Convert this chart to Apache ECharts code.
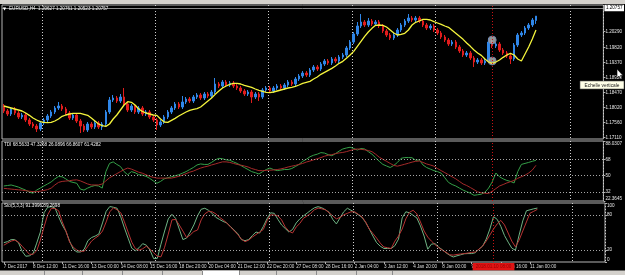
<!DOCTYPE html>
<html><head><meta charset="utf-8">
<script src="https://cdn.jsdelivr.net/npm/echarts@6/dist/echarts.min.js"></script>
<style>html,body{margin:0;padding:0;background:#000;}#c{width:625px;height:275px;}</style>
</head><body><div id="c"></div>
<script>
// ---------- data ----------
const timeLabels = ['7 Dec 2017','8 Dec 12:00','11 Dec 16:00','13 Dec 00:00','14 Dec 08:00','15 Dec 16:00','18 Dec 20:00','20 Dec 04:00','21 Dec 12:00','22 Dec 20:00','27 Dec 08:00','28 Dec 16:00','2 Jan 04:00','3 Jan 12:00','4 Jan 20:00','8 Jan 00:00','9 Jan 08:00','10 Jan 16:00','11 Jan 00:00'];
const labelStep = 8;
const slotCount = 165;
const weekSeparators = [11, 42, 73, 96, 119, 156];

const open = [1.1806,1.1791,1.1782,1.1797,1.1785,1.1773,1.1779,1.1764,1.1752,1.1746,
1.1737,1.1755,1.1764,1.1776,1.1788,1.1800,1.1806,1.1797,1.1785,1.1770,
1.1779,1.1761,1.1746,1.1734,1.1752,1.1743,1.1755,1.1743,1.1752,1.1788,
1.1824,1.1830,1.1821,1.1833,1.1812,1.1794,1.1806,1.1788,1.1800,1.1782,
1.1788,1.1773,1.1764,1.1749,1.1758,1.1773,1.1788,1.1800,1.1812,1.1803,
1.1818,1.1827,1.1821,1.1833,1.1839,1.1830,1.1842,1.1836,1.1848,1.1872,
1.1866,1.1878,1.1869,1.1875,1.1866,1.1860,1.1851,1.1842,1.1848,1.1833,
1.1842,1.1833,1.1854,1.1860,1.1851,1.1860,1.1866,1.1860,1.1869,1.1878,
1.1872,1.1887,1.1896,1.1905,1.1899,1.1914,1.1923,1.1917,1.1932,1.1941,
1.1935,1.1947,1.1941,1.1953,1.1959,1.1980,1.1998,1.2022,1.2046,1.2058,
1.2049,1.2061,1.2052,1.2058,1.2046,1.2031,1.2019,1.2010,1.2019,1.2034,
1.2049,1.2061,1.2070,1.2064,1.2070,1.2061,1.2049,1.2040,1.2046,1.2034,
1.2025,1.2013,1.2004,1.1992,1.1998,1.1983,1.1971,1.1959,1.1965,1.1950,
1.1938,1.1944,1.1935,1.1941,1.1998,1.1986,1.1992,1.1974,1.1965,1.1956,
1.1947,1.1989,1.2019,1.2025,1.2040,1.2049,1.20627];
const close = [1.1791,1.1782,1.1797,1.1785,1.1773,1.1779,1.1764,1.1752,1.1746,1.1737,
1.1755,1.1764,1.1776,1.1788,1.1800,1.1806,1.1797,1.1785,1.1770,1.1779,
1.1761,1.1746,1.1734,1.1752,1.1743,1.1755,1.1743,1.1752,1.1788,1.1824,
1.1830,1.1821,1.1833,1.1812,1.1794,1.1806,1.1788,1.1800,1.1782,1.1788,
1.1773,1.1764,1.1749,1.1758,1.1773,1.1788,1.1800,1.1812,1.1803,1.1818,
1.1827,1.1821,1.1833,1.1839,1.1830,1.1842,1.1836,1.1848,1.1872,1.1866,
1.1878,1.1869,1.1875,1.1866,1.1860,1.1851,1.1842,1.1848,1.1833,1.1842,
1.1833,1.1854,1.1860,1.1851,1.1860,1.1866,1.1860,1.1869,1.1878,1.1872,
1.1887,1.1896,1.1905,1.1899,1.1914,1.1923,1.1917,1.1932,1.1941,1.1935,
1.1947,1.1941,1.1953,1.1959,1.1980,1.1998,1.2022,1.2046,1.2058,1.2049,
1.2061,1.2052,1.2058,1.2046,1.2031,1.2019,1.2010,1.2019,1.2034,1.2049,
1.2061,1.2070,1.2064,1.2070,1.2061,1.2049,1.2040,1.2046,1.2034,1.2025,
1.2013,1.2004,1.1992,1.1998,1.1983,1.1971,1.1959,1.1965,1.1950,1.1938,
1.1944,1.1935,1.1941,1.1998,1.1986,1.1992,1.1974,1.1965,1.1956,1.1947,
1.1989,1.2019,1.2025,1.2040,1.2049,1.2064,1.20757];
const low = [1.1785,1.1776,1.1776,1.1779,1.1767,1.1767,1.1758,1.1746,1.1740,1.1728,
1.1731,1.1749,1.1758,1.1770,1.1782,1.1794,1.1791,1.1779,1.1764,1.1764,
1.1755,1.1725,1.1728,1.1728,1.1737,1.1737,1.1737,1.1734,1.1746,1.1782,
1.1818,1.1815,1.1815,1.1806,1.1788,1.1788,1.1782,1.1782,1.1776,1.1776,
1.1767,1.1758,1.1734,1.1743,1.1752,1.1767,1.1782,1.1794,1.1797,1.1797,
1.1812,1.1815,1.1815,1.1827,1.1824,1.1824,1.1830,1.1830,1.1842,1.1860,
1.1860,1.1863,1.1863,1.1860,1.1854,1.1845,1.1836,1.1836,1.1815,1.1827,
1.1821,1.1827,1.1848,1.1845,1.1845,1.1854,1.1854,1.1854,1.1863,1.1866,
1.1866,1.1881,1.1890,1.1893,1.1893,1.1908,1.1911,1.1911,1.1926,1.1929,
1.1929,1.1935,1.1935,1.1947,1.1953,1.1974,1.1992,1.2016,1.2040,1.2043,
1.2043,1.2046,1.2046,1.2040,1.2025,1.2013,1.2004,1.2004,1.2013,1.2028,
1.2043,1.2055,1.2058,1.2058,1.2055,1.2043,1.2034,1.2034,1.2028,1.2019,
1.2007,1.1998,1.1986,1.1986,1.1977,1.1965,1.1953,1.1953,1.1944,1.1923,
1.1932,1.1929,1.1929,1.1935,1.1980,1.1980,1.1968,1.1959,1.1950,1.1932,
1.1941,1.1983,1.2013,1.2019,1.2034,1.2043,1.20523];
const high = [1.1812,1.1797,1.1803,1.1803,1.1791,1.1785,1.1785,1.1770,1.1758,1.1752,
1.1761,1.1770,1.1782,1.1794,1.1806,1.1818,1.1812,1.1803,1.1791,1.1785,
1.1785,1.1767,1.1752,1.1758,1.1758,1.1761,1.1761,1.1758,1.1794,1.1833,
1.1839,1.1836,1.1842,1.1860,1.1818,1.1812,1.1812,1.1806,1.1806,1.1794,
1.1794,1.1779,1.1770,1.1764,1.1779,1.1794,1.1806,1.1818,1.1818,1.1836,
1.1833,1.1833,1.1839,1.1845,1.1845,1.1848,1.1848,1.1854,1.1890,1.1878,
1.1884,1.1884,1.1881,1.1881,1.1872,1.1866,1.1857,1.1854,1.1854,1.1848,
1.1848,1.1860,1.1866,1.1866,1.1866,1.1872,1.1872,1.1875,1.1884,1.1884,
1.1893,1.1902,1.1911,1.1911,1.1920,1.1929,1.1929,1.1938,1.1947,1.1947,
1.1953,1.1953,1.1959,1.1965,1.1986,1.2004,1.2028,1.2058,1.2082,1.2064,
1.2070,1.2067,1.2064,1.2064,1.2052,1.2037,1.2025,1.2025,1.2040,1.2055,
1.2067,1.2082,1.2076,1.2076,1.2076,1.2067,1.2055,1.2052,1.2052,1.2040,
1.2031,1.2019,1.2010,1.2004,1.2004,1.1989,1.1977,1.1971,1.1971,1.1956,
1.1950,1.1950,1.1947,1.2010,1.2004,1.1998,1.1998,1.1980,1.1971,1.1962,
1.1995,1.2025,1.2031,1.2046,1.2055,1.2070,1.20761];
const maLine = [1.1806,1.1803,1.1800,1.1797,1.1794,1.1791,1.1785,1.1778,1.1770,1.1764,
1.1759,1.1757,1.1756,1.1757,1.1761,1.1767,1.1775,1.1779,1.1782,1.1784,
1.1784,1.1784,1.1781,1.1778,1.1770,1.1761,1.1752,1.1747,1.1745,1.1752,
1.1767,1.1779,1.1794,1.1809,1.1819,1.1817,1.1809,1.1797,1.1790,1.1785,
1.1782,1.1779,1.1778,1.1767,1.1758,1.1757,1.1763,1.1769,1.1776,1.1782,
1.1788,1.1793,1.1796,1.1798,1.1803,1.1812,1.1821,1.1830,1.1841,1.1851,
1.1860,1.1866,1.1871,1.1874,1.1874,1.1872,1.1868,1.1865,1.1862,1.1857,
1.1853,1.1850,1.1847,1.1846,1.1848,1.1851,1.1854,1.1857,1.1860,1.1862,
1.1865,1.1869,1.1874,1.1877,1.1880,1.1887,1.1893,1.1901,1.1907,1.1913,
1.1919,1.1926,1.1934,1.1940,1.1949,1.1959,1.1970,1.1985,1.2000,1.2015,
1.2028,1.2039,1.2048,1.2049,1.2048,1.2043,1.2034,1.2025,1.2019,1.2021,
1.2024,1.2034,1.2049,1.2057,1.2061,1.2066,1.2066,1.2064,1.2059,1.2055,
1.2051,1.2046,1.2042,1.2033,1.2024,1.2015,1.2006,1.1995,1.1985,1.1974,
1.1965,1.1958,1.1947,1.1938,1.1934,1.1938,1.1944,1.1952,1.1959,1.1964,
1.1959,1.1947,1.1941,1.1962,1.1983,1.2007,1.2034];
const tdiGreen = [38.8,39.3,39.9,38.8,37.6,35.9,34.3,32.0,30.9,34.3,
36.5,38.8,41.0,43.3,46.6,49.2,48.9,46.6,43.8,42.7,
41.8,35.4,34.3,36.5,38.2,39.3,38.8,36.5,54.5,63.5,
65.2,62.4,60.1,54.5,51.1,54.5,53.4,51.1,50.6,49.4,
47.2,44.4,41.8,43.8,46.6,47.8,48.9,50.0,51.1,52.8,
54.5,56.8,59.0,61.8,62.9,62.4,62.4,64.6,67.4,69.1,
68.6,67.4,66.9,65.2,63.5,61.3,59.0,56.8,54.5,53.4,
51.9,54.5,56.8,58.4,56.8,55.6,56.2,56.8,56.8,57.9,
60.1,62.4,65.8,68.0,70.8,72.5,73.6,75.3,74.8,73.1,
71.9,74.2,77.0,79.3,80.4,81.2,79.8,78.1,79.8,79.3,
76.4,73.6,69.7,65.8,62.4,60.7,59.0,61.3,64.6,69.1,
69.9,69.9,69.7,66.9,67.4,61.8,59.0,57.3,55.6,54.5,
52.8,47.8,42.7,40.4,38.8,36.5,34.3,32.6,30.9,28.6,
29.2,29.8,32.0,36.5,43.3,53.0,48.9,46.6,44.9,43.8,
42.1,54.5,62.4,63.5,64.6,65.8,66.8607];
const tdiRed = [36.2,35.8,35.4,35.0,34.6,34.3,33.7,33.1,32.6,32.6,
33.1,33.9,34.8,36.5,39.9,42.7,43.8,44.2,44.6,45.2,
45.5,44.4,42.7,41.0,39.9,39.9,39.9,41.0,44.4,47.8,
50.0,52.3,54.5,56.8,58.4,57.3,55.6,53.9,52.8,51.1,
49.4,48.3,47.4,47.4,47.4,47.4,47.4,48.3,49.4,50.6,
52.3,53.9,55.1,56.8,58.4,59.6,60.5,61.8,62.9,64.1,
65.2,65.2,64.6,63.5,62.4,61.6,60.7,59.6,57.9,56.8,
55.6,55.6,55.9,56.1,56.3,56.8,57.5,58.4,59.6,60.5,
61.3,62.4,63.5,65.0,66.1,67.4,68.6,69.9,71.4,72.5,
73.1,74.2,75.0,75.5,76.4,77.6,78.7,79.3,78.9,78.4,
77.6,76.4,73.6,70.3,68.0,65.8,63.5,61.3,60.5,61.5,
62.6,63.7,64.9,65.8,66.1,64.6,62.9,61.8,60.5,57.9,
55.6,53.4,51.1,48.9,46.6,43.8,41.0,39.3,37.1,34.8,
32.3,31.4,30.9,30.5,33.1,35.9,38.8,40.4,42.1,43.5,
44.9,47.2,48.9,50.6,53.0,56.2,61.4282];
const stochMain = [32.8,34.5,38.0,38.0,32.8,18.2,9.7,10.5,14.3,32.0,
50.8,83.4,92.8,93.8,91.4,76.5,62.8,51.7,35.4,21.7,
17.0,17.0,21.7,36.2,41.4,44.0,47.4,66.2,85.9,94.0,
92.8,91.1,76.5,57.7,40.5,23.4,19.1,24.2,31.1,28.5,
20.0,5.7,6.2,30.2,52.5,73.1,80.8,73.9,55.9,38.0,
40.5,50.8,62.8,78.2,89.4,91.1,87.7,82.5,75.7,72.2,
68.8,66.2,60.2,54.2,48.2,38.0,36.2,38.0,44.8,50.8,
49.1,60.2,73.1,83.4,82.5,72.2,62.8,56.8,50.8,55.1,
66.2,73.1,78.2,82.9,87.7,91.9,93.8,91.9,88.5,84.2,
72.2,64.5,74.8,85.1,91.1,87.7,84.2,79.9,75.7,67.1,
55.9,44.0,32.8,26.8,22.9,22.9,22.9,27.7,38.8,74.8,
85.1,83.4,79.1,74.8,61.1,44.0,21.7,30.2,31.1,25.1,
20.8,15.7,11.4,8.5,10.5,12.2,14.0,14.3,14.3,15.7,
21.7,26.8,38.8,55.9,77.0,72.2,60.2,44.8,33.7,23.4,
20.0,45.7,69.7,86.8,88.5,90.2,91.3996];
const stochSignal = [28.5,32.0,35.4,37.1,33.7,26.8,20.0,13.1,13.1,19.1,
37.1,59.4,79.9,91.1,90.6,86.8,67.9,52.5,33.7,25.1,
20.0,18.2,18.2,26.8,35.4,40.5,44.8,52.5,67.9,85.1,
91.9,88.5,83.4,67.9,50.8,33.7,22.5,20.0,22.5,26.8,
21.7,15.7,9.7,8.8,25.1,47.4,71.4,72.2,62.8,52.5,
41.4,45.7,51.7,54.2,71.4,81.7,85.6,85.1,81.7,75.7,
71.4,66.2,59.4,53.4,46.5,38.8,34.5,37.1,42.2,46.5,
50.8,55.1,69.7,79.9,79.6,78.2,71.4,59.4,52.5,49.1,
59.4,65.4,74.3,78.2,82.5,88.5,91.4,90.2,88.5,83.4,
78.2,73.1,75.7,79.9,82.5,85.1,85.1,80.8,76.5,67.9,
55.9,48.2,40.5,32.0,25.4,24.2,22.9,35.4,44.0,55.9,
73.1,84.2,87.7,81.7,67.9,52.5,42.2,35.4,29.4,24.2,
20.0,16.5,12.2,11.7,12.8,13.6,14.3,15.2,16.2,17.0,
21.7,26.8,35.4,45.7,55.9,64.5,70.5,62.8,49.1,35.4,
25.6,37.1,52.5,67.9,82.9,85.9,89.2698];

const priceTicks = [1.17110,1.17560,1.18020,1.18470,1.18920,1.19370,1.19820,1.20290];
const priceMin = 1.1707, priceMax = 1.2109;
const lastPrice = 1.20757;
const tdiTicks = [22.3645,32,50,68,88.0307];
const tdiLevels = [32,50,68];
const stochTicks = [0,20,80,100];
const stochLevels = [20,80];
const markerBar = 134;
const markerPrices = [1.2004, 1.1941];
const crossTime = '2018.01.10 08:00';
const mainTitle = 'EURUSD,H4  1.20627 1.20761 1.20523 1.20757';
const tdiTitle = 'TDI 68.5633 47.3268 26.0896 66.8607 61.4282';
const stoTitle = 'Sto(5,3,3) 91.3996 89.2698';

// ---------- chart ----------
const FONT = 'Liberation Sans';
const FS = 4.6;
const categories = Array.from({length: slotCount}, (_, i) => String(i));
const candles = close.map((c, i) => [open[i], c, low[i], high[i]]);

const grids = [
  {left: 2, top: 5, width: 603, height: 134},
  {left: 2, top: 141, width: 603, height: 60},
  {left: 2, top: 203, width: 603, height: 59}
].map(g => Object.assign(g, {show: true, borderColor: '#b4b4b4', borderWidth: 1, backgroundColor: '#000'}));

function xAx(gi, labels) {
  return {
    type: 'category', gridIndex: gi, data: categories, boundaryGap: true,
    axisLine: {show: false},
    axisTick: labels ? {show: true, alignWithLabel: true, length: 2,
      interval: i => i % labelStep === 0 && i / labelStep < timeLabels.length,
      lineStyle: {color: '#b0b0b0'}} : {show: false},
    axisLabel: labels ? {show: true, interval: i => i % labelStep === 0 && i / labelStep < timeLabels.length,
      formatter: (v, i) => timeLabels[i / labelStep] || '', align: 'left',
      fontSize: FS, fontFamily: FONT, color: '#dcdcdc', margin: 2} : {show: false},
    splitLine: {show: true, interval: i => weekSeparators.includes(i),
      lineStyle: {color: '#cfcfcf', type: [1, 2], width: 1}}
  };
}
function yAx(gi, min, max, ticks, fmt) {
  return {
    type: 'value', gridIndex: gi, position: 'right', min, max,
    axisLine: {show: false}, splitLine: {show: false},
    axisTick: {show: true, customValues: ticks, length: 2, lineStyle: {color: '#b0b0b0'}},
    axisLabel: {customValues: ticks, formatter: fmt, fontSize: FS, fontFamily: FONT, color: '#e6e6e6', margin: 2,
      verticalAlignMinLabel: 'bottom', verticalAlignMaxLabel: 'top'}
  };
}
const redV = {xAxis: markerBar, lineStyle: {color: '#c81414', type: [1, 2], width: 1}, label: {show: false}};
const lvl = v => ({yAxis: v, lineStyle: {color: '#a6a6a6', type: [1, 2], width: 1}, label: {show: false}});

const option = {
  backgroundColor: '#000',
  animation: false,
  grid: grids,
  xAxis: [xAx(0, false), xAx(1, false), xAx(2, true)],
  yAxis: [
    {...yAx(0, priceMin, priceMax, priceTicks, v => v.toFixed(5)),
      axisLabel: {customValues: priceTicks, formatter: v => v.toFixed(5), fontSize: FS, fontFamily: FONT, color: '#e6e6e6', margin: 2}},
    yAx(1, tdiTicks[0], tdiTicks[tdiTicks.length - 1], tdiTicks, v => (Number.isInteger(v) ? String(v) : v.toFixed(4))),
    yAx(2, 0, 100, stochTicks, v => String(v))
  ],
  series: [
    {type: 'candlestick', xAxisIndex: 0, yAxisIndex: 0, data: candles, barWidth: 2,
      itemStyle: {color: '#2f86e8', color0: '#e01c1c', borderColor: '#2f86e8', borderColor0: '#e01c1c', borderWidth: 1},
      markLine: {silent: true, symbol: ['none', 'none'], animation: false,
        data: [
          {yAxis: lastPrice, lineStyle: {color: '#8c8c8c', type: 'solid', width: 1},
            label: {show: true, position: 'end', formatter: lastPrice.toFixed(5), backgroundColor: '#ffffff',
              color: '#000', fontSize: FS, fontFamily: FONT, padding: [1, 1.5, 0.5, 1.5], distance: 1}},
          redV
        ]}},
    {type: 'line', xAxisIndex: 0, yAxisIndex: 0, data: maLine, showSymbol: false, smooth: false,
      lineStyle: {color: '#f4f43c', width: 1.3}},
    {type: 'scatter', xAxisIndex: 0, yAxisIndex: 0, data: markerPrices.map(p => [markerBar, p]),
      symbol: 'circle', symbolSize: 8, itemStyle: {color: '#b9b9b9', borderColor: '#6a7fa8', borderWidth: 1}},
    {type: 'line', xAxisIndex: 1, yAxisIndex: 1, data: tdiGreen, showSymbol: false,
      lineStyle: {color: '#35a048', width: 1},
      markLine: {silent: true, symbol: ['none', 'none'], animation: false, data: tdiLevels.map(lvl).concat([redV])}},
    {type: 'line', xAxisIndex: 1, yAxisIndex: 1, data: tdiRed, showSymbol: false,
      lineStyle: {color: '#a52a2a', width: 1}},
    {type: 'line', xAxisIndex: 2, yAxisIndex: 2, data: stochMain, showSymbol: false,
      lineStyle: {color: '#6fb484', width: 1},
      markLine: {silent: true, symbol: ['none', 'none'], animation: false,
        data: stochLevels.map(lvl).concat([{xAxis: markerBar, lineStyle: {color: '#c81414', type: [1, 2], width: 1},
          label: {show: true, position: 'start', formatter: crossTime, backgroundColor: '#e01414', color: '#9a0000',
            fontSize: FS, fontFamily: FONT, padding: [1.5, 3, 1, 3], distance: 1}}])}},
    {type: 'line', xAxisIndex: 2, yAxisIndex: 2, data: stochSignal, showSymbol: false,
      lineStyle: {color: '#b83434', width: 1}}
  ],
  graphic: [
    {type: 'rect', z: 100, shape: {x: 0, y: 0, width: 625, height: 4}, style: {fill: '#d4d1cc'}},
    {type: 'rect', z: 100, shape: {x: 0, y: 270.5, width: 625, height: 5}, style: {fill: '#d4d1cc'}},
    {type: 'rect', z: 101, shape: {x: 202, y: 270.5, width: 37, height: 5}, style: {fill: '#ffffff'}},
    ...[44, 82, 122, 162, 202, 239, 276, 316, 356, 392].map(x => ({type: 'line', z: 102,
      shape: {x1: x + 0.5, y1: 271, x2: x + 0.5, y2: 275}, style: {stroke: '#8a8a8a', lineWidth: 1}})),
    {type: 'text', z: 100, x: 3, y: 8.5, style: {text: '▼', fill: '#ffffff', font: '4px "DejaVu Sans"', verticalAlign: 'middle'}},
    {type: 'text', z: 100, x: 9, y: 8.5, style: {text: mainTitle, fill: '#f0f0f0', font: FS + 'px "' + FONT + '"', verticalAlign: 'middle'}},
    {type: 'text', z: 100, x: 4, y: 144.7, style: {text: tdiTitle, fill: '#f0f0f0', font: FS + 'px "' + FONT + '"', verticalAlign: 'middle'}},
    {type: 'text', z: 100, x: 4, y: 205.8, style: {text: stoTitle, fill: '#f0f0f0', font: FS + 'px "' + FONT + '"', verticalAlign: 'middle'}},
    {type: 'rect', z: 110, shape: {x: 580, y: 81, width: 44, height: 8}, style: {fill: '#ffffe8', stroke: '#505050', lineWidth: 0.6}},
    {type: 'text', z: 111, x: 602, y: 85.2, style: {text: 'Echelle verticale', fill: '#202020', font: '4.8px "' + FONT + '"', align: 'center', verticalAlign: 'middle'}},
    {type: 'polygon', z: 112, shape: {points: [[617, 69], [617, 78], [619, 76], [620.5, 79], [621.8, 78.4], [620.4, 75.5], [623, 75.5]]},
      style: {fill: '#ffffff', stroke: '#000000', lineWidth: 0.6}}
  ]
};
const chart = echarts.init(document.getElementById('c'), null, {renderer: 'canvas', width: 625, height: 275});
chart.setOption(option);
</script>
</body></html>
